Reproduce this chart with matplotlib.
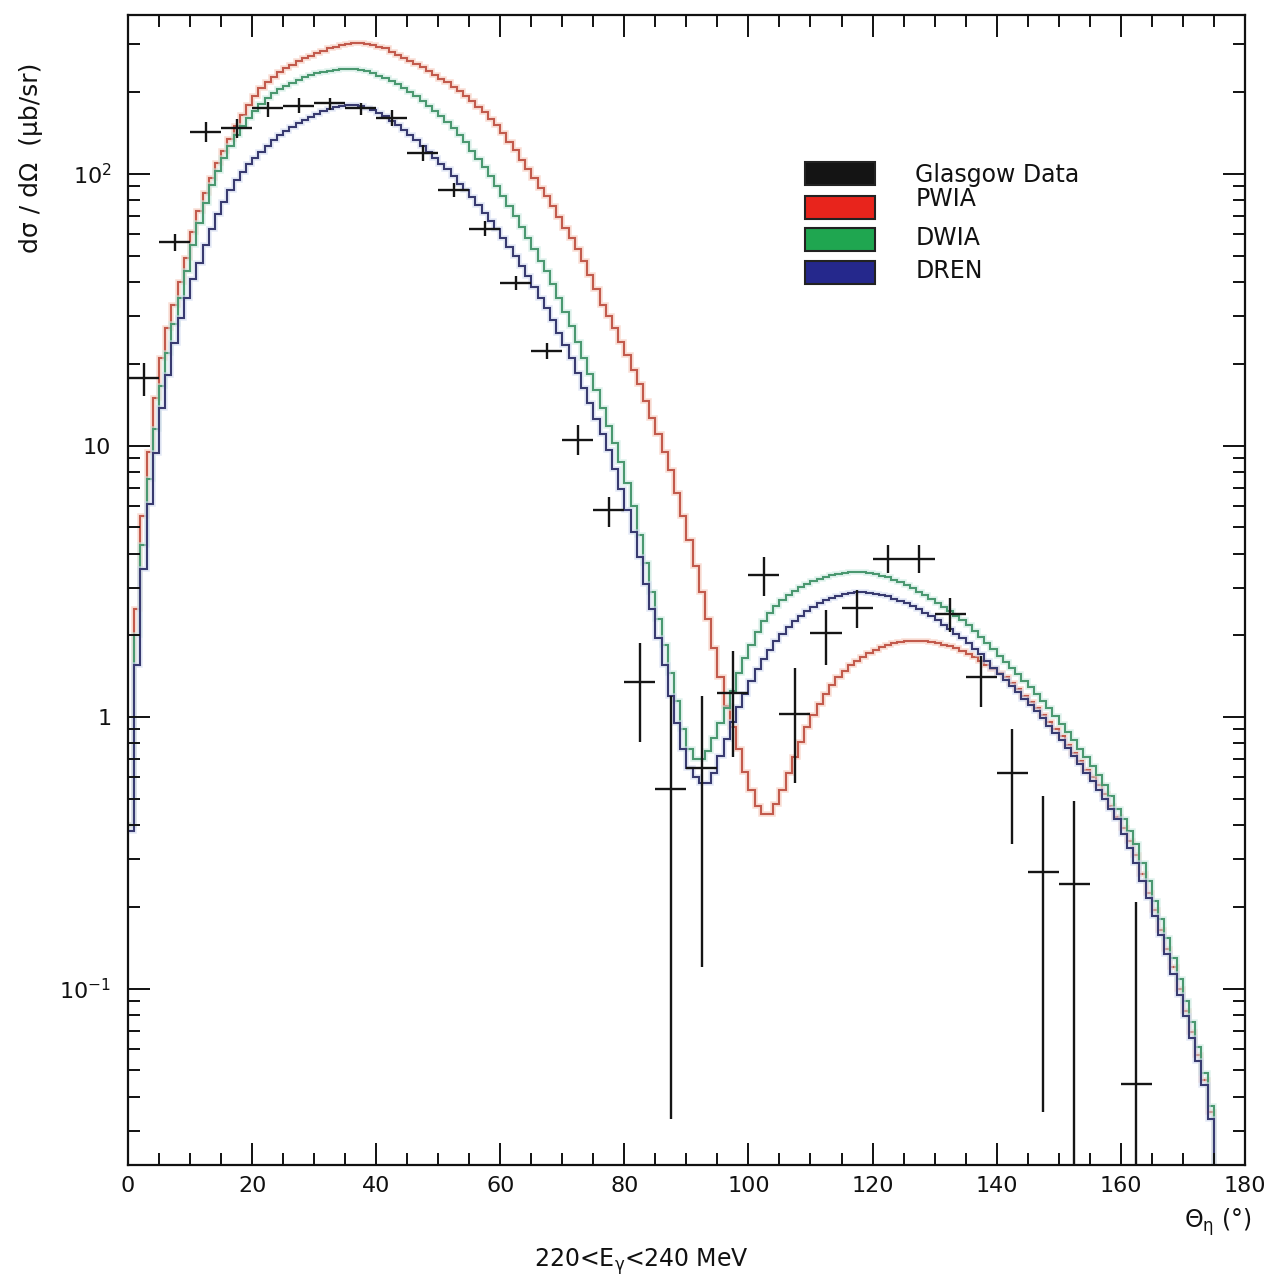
import numpy as np
import matplotlib
matplotlib.use("Agg")
import matplotlib.pyplot as plt
from matplotlib.patches import Rectangle
from matplotlib.ticker import LogLocator, MultipleLocator, NullFormatter

# 1-degree bins, 0..176 deg (last bin drops below the axis)
bin_edges = list(range(0, 177))

pwia = [
    0.4, 2.5, 5.5, 9.5, 15, 21, 27, 33, 40, 49,
    61, 73, 85, 97, 110, 122, 135, 150, 165, 180,
    194, 207, 218, 228, 237, 245, 253, 260, 267, 273,
    279, 285, 290, 294, 298, 301, 303, 304, 302, 298,
    294, 290, 282, 275, 268, 261, 254, 247, 239, 232,
    224, 218, 210, 202, 193, 185, 177, 169, 160, 151,
    142, 131, 123, 113, 104, 97, 89, 83, 76, 69.5,
    63.5, 58, 53, 48, 42.5, 37.6, 33, 30, 27, 24,
    21.5, 19, 16.8, 14.6, 12.6, 11, 9.5, 8.1, 6.7, 5.5,
    4.5, 3.6, 2.9, 2.3, 1.8, 1.4, 1.1, 0.92, 0.76, 0.63,
    0.54, 0.47, 0.44, 0.44, 0.48, 0.54, 0.62, 0.71, 0.81, 0.92,
    1.02, 1.12, 1.22, 1.31, 1.40, 1.48, 1.55, 1.61, 1.67, 1.72,
    1.77, 1.81, 1.84, 1.87, 1.89, 1.90, 1.91, 1.91, 1.90, 1.89,
    1.87, 1.85, 1.82, 1.79, 1.75, 1.71, 1.66, 1.61, 1.56, 1.50,
    1.45, 1.40, 1.33, 1.27, 1.20, 1.14, 1.08, 1.02, 0.96, 0.90,
    0.85, 0.79, 0.74, 0.69, 0.64, 0.60, 0.56, 0.52, 0.47, 0.43,
    0.39, 0.35, 0.31, 0.265, 0.225, 0.195, 0.165, 0.14, 0.12, 0.10,
    0.083, 0.069, 0.057, 0.046, 0.035, 0.001,
]

dwia = [
    0.4, 2.0, 4.3, 7.5, 11.5, 16.5, 22, 28, 35, 44,
    55, 66, 78, 91, 103, 115, 127, 139, 150, 161,
    171, 181, 190, 198, 205, 211, 217, 222, 227, 231,
    235, 238, 240, 242, 243, 243, 243, 242, 239, 235,
    230, 226, 221, 215, 208, 201, 193, 185, 178, 170,
    163, 156, 148, 139, 131, 122, 114, 106, 98, 90,
    83, 76, 70, 64, 58, 53, 48, 44, 39.5, 35,
    31, 27.5, 24, 21, 18.3, 16, 13.8, 11.8, 10.2, 8.7,
    7.3, 6.0, 4.7, 3.7, 2.9, 2.3, 1.85, 1.45, 1.15, 0.9,
    0.76, 0.70, 0.70, 0.75, 0.84, 0.95, 1.08, 1.25, 1.45, 1.65,
    1.85, 2.05, 2.25, 2.42, 2.57, 2.70, 2.82, 2.92, 3.01, 3.09,
    3.16, 3.22, 3.28, 3.33, 3.37, 3.40, 3.42, 3.42, 3.41, 3.39,
    3.36, 3.32, 3.27, 3.21, 3.14, 3.06, 2.98, 2.90, 2.81, 2.72,
    2.63, 2.54, 2.45, 2.36, 2.27, 2.18, 2.08, 1.98, 1.88, 1.78,
    1.68, 1.60, 1.52, 1.44, 1.36, 1.29, 1.22, 1.15, 1.08, 1.01,
    0.94, 0.88, 0.82, 0.76, 0.71, 0.66, 0.61, 0.56, 0.51, 0.46,
    0.42, 0.38, 0.34, 0.29, 0.25, 0.21, 0.18, 0.153, 0.13, 0.108,
    0.09, 0.075, 0.061, 0.049, 0.037, 0.001,
]

dren = [
    0.38, 1.55, 3.5, 6.1, 9.4, 13.7, 18.2, 23.9, 29.5, 35,
    41, 47, 55, 63, 71, 79, 87, 95, 102, 109,
    115, 121, 127, 133, 139, 144, 149, 154, 158, 162,
    166, 170, 173, 176, 178, 179, 179, 178, 175, 172,
    168, 163, 157, 151, 145, 139, 133, 127, 121, 115,
    109, 104, 98, 92, 87, 82, 77, 72, 67, 63,
    58, 54, 50, 46, 42, 38.5, 35, 32, 29, 26,
    23.5, 21, 18.5, 16.3, 14.3, 12.5, 11, 9.6, 8.2, 6.9,
    5.8, 4.8, 3.9, 3.1, 2.5, 1.95, 1.55, 1.2, 0.95, 0.76,
    0.65, 0.60, 0.57, 0.57, 0.62, 0.72, 0.83, 0.96, 1.09, 1.22,
    1.36, 1.50, 1.64, 1.77, 1.90, 2.02, 2.14, 2.25, 2.35, 2.45,
    2.54, 2.62, 2.69, 2.75, 2.80, 2.84, 2.87, 2.88, 2.88, 2.87,
    2.85, 2.82, 2.78, 2.73, 2.68, 2.62, 2.56, 2.49, 2.42, 2.35,
    2.27, 2.19, 2.11, 2.03, 1.95, 1.87, 1.78, 1.70, 1.61, 1.52,
    1.44, 1.37, 1.30, 1.24, 1.17, 1.11, 1.05, 0.99, 0.93, 0.87,
    0.82, 0.77, 0.72, 0.67, 0.62, 0.58, 0.54, 0.50, 0.46, 0.42,
    0.37, 0.33, 0.29, 0.25, 0.215, 0.185, 0.158, 0.134, 0.113, 0.095,
    0.079, 0.066, 0.054, 0.044, 0.033, 0.001,
]

# Glasgow data: bin centres, value, lower / upper end of error bar
data_theta = [2.5, 7.5, 12.5, 17.5, 22.5, 27.5, 32.5, 37.5, 42.5, 47.5,
              52.5, 57.5, 62.5, 67.5, 72.5, 77.5, 82.5, 87.5, 92.5, 97.5,
              102.5, 107.5, 112.5, 117.5, 122.5, 127.5, 132.5, 137.5, 142.5,
              147.5, 152.5, 162.5]
data_val = [17.7, 56, 143, 148, 175, 178, 183, 175, 161, 120,
            87, 63, 39.7, 22.3, 10.5, 5.8, 1.35, 0.543, 0.65, 1.23,
            3.33, 1.03, 2.04, 2.52, 3.82, 3.82, 2.4, 1.40, 0.62,
            0.269, 0.243, 0.0445]
data_lo = [15.2, 52, 131, 136, 162, 168, 172, 165, 150, 112,
           82, 59, 37.5, 20.8, 9.2, 5.0, 0.81, 0.033, 0.12, 0.71,
           2.8, 0.57, 1.55, 2.13, 3.4, 3.4, 2.05, 1.09, 0.34,
           0.035, 0.001, 0.001]
data_hi = [20.1, 60, 156, 160, 184, 190, 191, 182, 172, 128,
           93, 67, 42, 23.8, 11.9, 6.45, 1.87, 1.2, 1.2, 1.75,
           3.9, 1.52, 2.48, 2.93, 4.3, 4.3, 2.75, 1.68, 0.90,
           0.51, 0.49, 0.208]
data_halfwidth = 2.5

legend_labels = ["Glasgow Data", "PWIA", "DWIA", "DREN"]
legend_colors = ["#141414", "#e8241c", "#1fa650", "#25288c"]

plt.rcParams["font.family"] = ["DejaVu Sans"]
plt.rcParams["mathtext.default"] = "regular"

fig = plt.figure(figsize=(12.78, 12.76), dpi=100)
ax = fig.add_axes([0.1002, 0.087, 0.8738, 0.9012])

edges = np.array(bin_edges, dtype=float)
curves = [
    (pwia, "#f6c8ba", "#c25a4c"),
    (dwia, "#cdeae2", "#4a9870"),
    (dren, "#d3dbf0", "#383a70"),
]
for vals, glow, core in curves:
    ax.stairs(vals, edges, baseline=None, color=glow, lw=4, alpha=0.6)
    ax.stairs(vals, edges, baseline=None, color=core, lw=1.5)

x = np.array(data_theta)
y = np.array(data_val)
yerr = [y - np.array(data_lo), np.array(data_hi) - y]
ax.errorbar(x, y, xerr=data_halfwidth, yerr=yerr, fmt="none",
            ecolor="#151515", elinewidth=1.7, capsize=0, zorder=5)

ax.set_yscale("log")
ax.set_xlim(0, 180)
ax.set_ylim(0.0224, 385)

ax.xaxis.set_major_locator(MultipleLocator(20))
ax.xaxis.set_minor_locator(MultipleLocator(5))
ax.set_yticks([0.1, 1, 10, 100], labels=["$10^{-1}$", "1", "10", "$10^{2}$"])
ax.yaxis.set_minor_locator(LogLocator(base=10, subs=np.arange(2, 10)))
ax.yaxis.set_minor_formatter(NullFormatter())

ax.tick_params(which="both", direction="in", top=True, right=True,
               width=1.4, colors="#111111", labelsize=16)
ax.tick_params(which="major", length=16)
ax.tick_params(which="minor", length=8.5)
ax.tick_params(axis="x", pad=8)
ax.tick_params(axis="y", pad=12)
for sp in ax.spines.values():
    sp.set_linewidth(1.6)
    sp.set_color("#111111")

# legend drawn as coloured boxes with labels
box_y = [0.852, 0.823, 0.795, 0.766]
text_y = [0.861, 0.840, 0.806, 0.777]
for lab, col, by, ty in zip(legend_labels, legend_colors, box_y, text_y):
    ax.add_patch(Rectangle((0.606, by), 0.063, 0.02, transform=ax.transAxes,
                           facecolor=col, edgecolor="#222222", lw=1.5, zorder=6))
    ax.text(0.705, ty, lab, transform=ax.transAxes, fontsize=17,
            va="center", ha="left", color="#111111", zorder=6)

fig.text(0.024, 0.876, "dσ / dΩ  (μb/sr)", rotation=90, fontsize=18,
         ha="center", va="center", color="#111111")
fig.text(0.953, 0.042, r"$\Theta_\eta$ (°)", fontsize=17,
         ha="center", va="center", color="#111111")
fig.text(0.502, 0.011, r"220<E$_\gamma$<240 MeV", fontsize=17,
         ha="center", va="center", color="#111111")

fig.savefig("out.png", dpi=100)
